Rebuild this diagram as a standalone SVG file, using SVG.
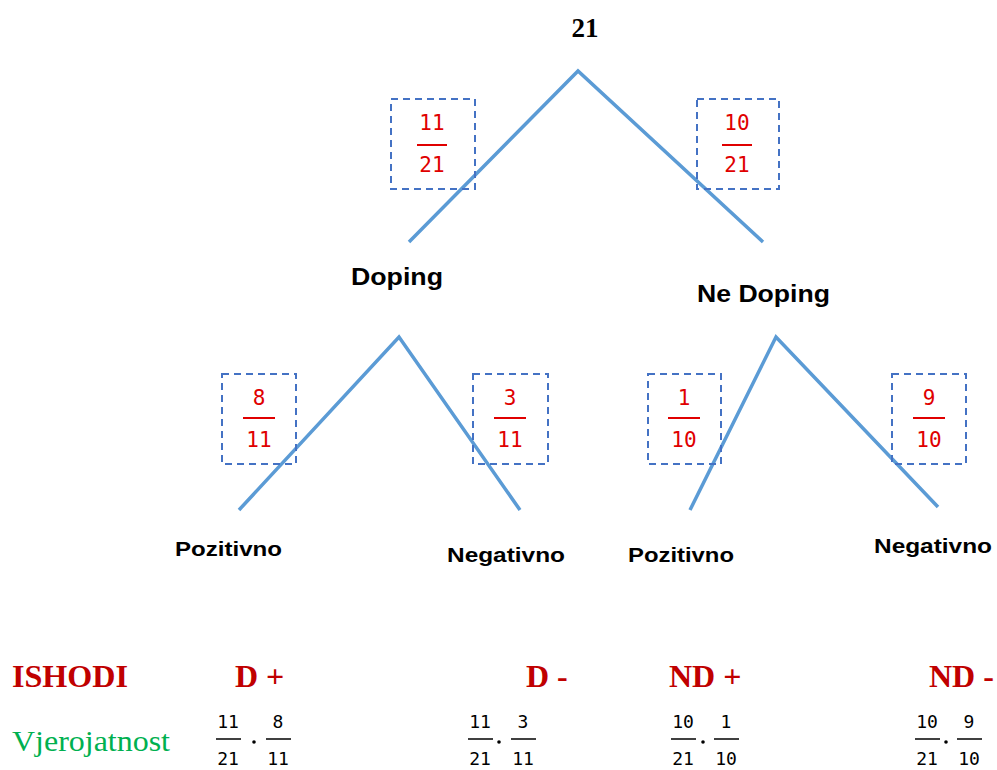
<svg xmlns="http://www.w3.org/2000/svg" width="997" height="770" viewBox="0 0 997 770">
<style>
.edge{stroke:#5b9bd5;stroke-width:3.5;fill:none;stroke-linecap:butt}
.box{fill:none;stroke:#4472c4;stroke-width:2;stroke-dasharray:7,5}
.fr{font-family:"DejaVu Sans Mono","Liberation Mono",monospace;font-size:21px;fill:#e00000;text-anchor:middle}
.frl{stroke:#e00000;stroke-width:2}
.lbl{font-family:"Liberation Sans",Arial,sans-serif;font-weight:bold;fill:#000}
.out{font-family:"Liberation Serif","Times New Roman",serif;font-weight:bold;font-size:32px;fill:#c00000}
.bf{font-family:"DejaVu Sans Mono","Liberation Mono",monospace;font-size:18px;fill:#000;text-anchor:middle}
.bfl{stroke:#000;stroke-width:1.5}
</style>
<g id="connectors">
<polyline class="edge" points="409,242 578,71 763,242"/>
<polyline class="edge" points="239,510 399,337 520,510"/>
<polyline class="edge" points="690,510 776,337 938,507"/>
</g>
<g id="root"><text x="585" y="37" text-anchor="middle" font-family="Liberation Serif,serif" font-weight="bold" font-size="27">21</text></g>
<g id="p-doping">
<rect class="box" x="391" y="99" width="84" height="90"/>
<text class="fr" x="432" y="130">11</text><line class="frl" x1="417" y1="145" x2="447" y2="145"/><text class="fr" x="432" y="172">21</text>
</g>
<g id="p-nedoping">
<rect class="box" x="697" y="99" width="82" height="90"/>
<text class="fr" x="737" y="130">10</text><line class="frl" x1="722" y1="145" x2="752" y2="145"/><text class="fr" x="737" y="172">21</text>
</g>
<g id="doping"><text class="lbl" x="351" y="285" font-size="24" textLength="92" lengthAdjust="spacingAndGlyphs">Doping</text></g>
<g id="nedoping"><text class="lbl" x="697" y="302" font-size="24" textLength="133" lengthAdjust="spacingAndGlyphs">Ne Doping</text></g>
<g id="p-dpos">
<rect class="box" x="222" y="374" width="74" height="90"/>
<text class="fr" x="259" y="405">8</text><line class="frl" x1="243" y1="418" x2="275" y2="418"/><text class="fr" x="259" y="447">11</text>
</g>
<g id="p-dneg">
<rect class="box" x="473" y="374" width="75" height="90"/>
<text class="fr" x="510" y="405">3</text><line class="frl" x1="494" y1="418" x2="526" y2="418"/><text class="fr" x="510" y="447">11</text>
</g>
<g id="p-ndpos">
<rect class="box" x="648" y="374" width="73" height="90"/>
<text class="fr" x="684" y="405">1</text><line class="frl" x1="668" y1="418" x2="700" y2="418"/><text class="fr" x="684" y="447">10</text>
</g>
<g id="p-ndneg">
<rect class="box" x="892" y="374" width="74" height="90"/>
<text class="fr" x="929" y="405">9</text><line class="frl" x1="913" y1="418" x2="945" y2="418"/><text class="fr" x="929" y="447">10</text>
</g>
<g id="dpos"><text class="lbl" x="175" y="556" font-size="20" textLength="107" lengthAdjust="spacingAndGlyphs">Pozitivno</text></g>
<g id="dneg"><text class="lbl" x="447" y="562" font-size="20" textLength="118" lengthAdjust="spacingAndGlyphs">Negativno</text></g>
<g id="ndpos"><text class="lbl" x="628" y="562" font-size="20" textLength="106" lengthAdjust="spacingAndGlyphs">Pozitivno</text></g>
<g id="ndneg"><text class="lbl" x="874" y="553" font-size="20" textLength="118" lengthAdjust="spacingAndGlyphs">Negativno</text></g>
<g id="outcomes">
<text class="out" x="12" y="687" textLength="116" lengthAdjust="spacingAndGlyphs">ISHODI</text>
<text class="out" x="235" y="687">D +</text>
<text class="out" x="526" y="687">D -</text>
<text class="out" x="669" y="687">ND +</text>
<text class="out" x="929" y="687">ND -</text>
</g>
<g id="probabilities">
<text x="12" y="751" font-family="Liberation Serif,serif" font-size="30" fill="#00b050" textLength="158" lengthAdjust="spacingAndGlyphs">Vjerojatnost</text>
<text class="bf" x="228" y="728">11</text><line class="bfl" x1="216" y1="739" x2="241" y2="739"/><text class="bf" x="228" y="765">21</text>
<circle cx="254" cy="742" r="1.8"/>
<text class="bf" x="278" y="728">8</text><line class="bfl" x1="266" y1="739" x2="291" y2="739"/><text class="bf" x="278" y="765">11</text>
<text class="bf" x="480" y="728">11</text><line class="bfl" x1="468" y1="739" x2="493" y2="739"/><text class="bf" x="480" y="765">21</text>
<circle cx="499" cy="742" r="1.8"/>
<text class="bf" x="523" y="728">3</text><line class="bfl" x1="511" y1="739" x2="536" y2="739"/><text class="bf" x="523" y="765">11</text>
<text class="bf" x="683" y="728">10</text><line class="bfl" x1="671" y1="739" x2="696" y2="739"/><text class="bf" x="683" y="765">21</text>
<circle cx="703" cy="742" r="1.8"/>
<text class="bf" x="726" y="728">1</text><line class="bfl" x1="714" y1="739" x2="739" y2="739"/><text class="bf" x="726" y="765">10</text>
<text class="bf" x="927" y="728">10</text><line class="bfl" x1="915" y1="739" x2="940" y2="739"/><text class="bf" x="927" y="765">21</text>
<circle cx="946" cy="742" r="1.8"/>
<text class="bf" x="969" y="728">9</text><line class="bfl" x1="957" y1="739" x2="982" y2="739"/><text class="bf" x="969" y="765">10</text>
</g>
</svg>
